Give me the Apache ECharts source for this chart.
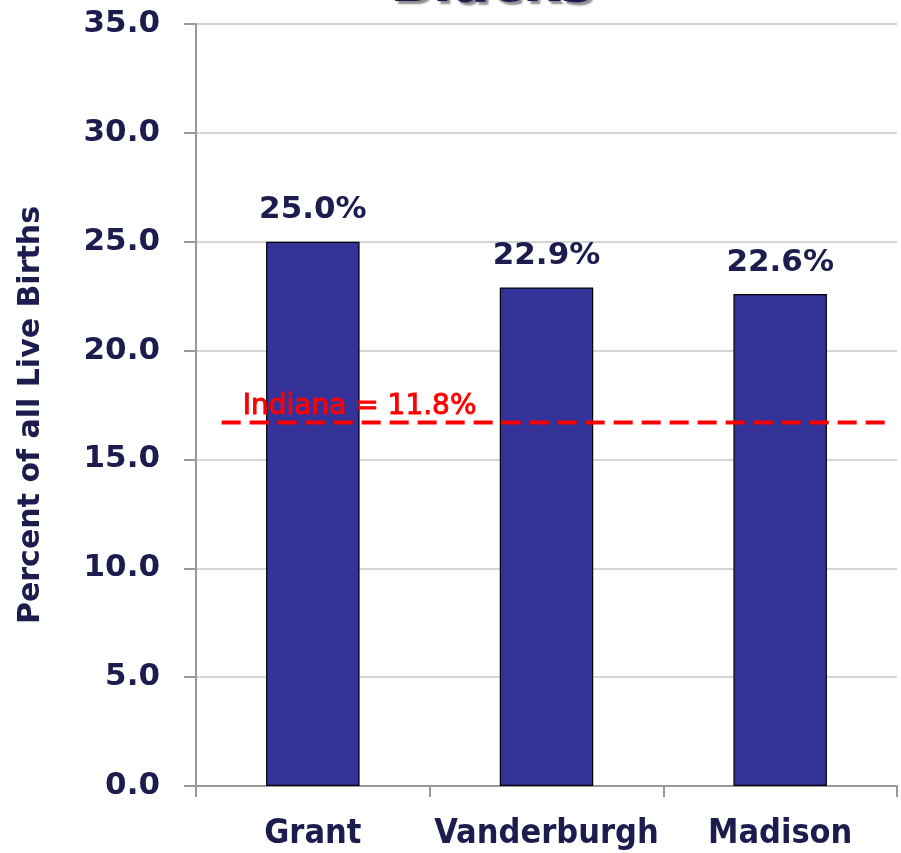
<!DOCTYPE html>
<html>
<head>
<meta charset="utf-8">
<script src="https://cdn.jsdelivr.net/npm/echarts@6/dist/echarts.min.js"></script>
<style>
  html, body { margin: 0; padding: 0; background: #fff; }
  #chart { width: 901px; height: 853px; }
</style>
</head>
<body>
<div id="chart"></div>
<script>
  // data
  var counties = ['Grant', 'Vanderburgh', 'Madison']
  var percents = [25.0, 22.9, 22.6]
  var indianaLabel = 'Indiana = 11.8%'
  var indianaLevel = 16.7        // where the dashed line sits on the axis
  var indianaSpan = [0.11, 2.96] // start/end of dashed line, in category units

  var navy = '#1c1c4f'
  var chart = echarts.init(document.getElementById('chart'))
  chart.setOption({
    animation: false,
    title: {
      text: 'Blacks',
      left: 385,
      top: -47,
      textStyle: {
        color: navy,
        fontSize: 56,
        fontWeight: 'bold',
        fontFamily: 'DejaVu Sans',
        textShadowColor: 'rgba(0,0,0,0.45)',
        textShadowOffsetX: 3,
        textShadowOffsetY: 3,
        textShadowBlur: 2
      }
    },
    grid: { left: 196, right: 4, top: 24, bottom: 67 },
    xAxis: [
      {
        type: 'category',
        data: counties,
        axisLine: { lineStyle: { color: '#999', width: 2 } },
        axisTick: { show: true, length: 11, interval: 0, lineStyle: { color: '#999', width: 2 } },
        axisLabel: {
          interval: 0,
          margin: 31,
          color: navy,
          fontSize: 34,
          fontWeight: 'bold',
          fontFamily: 'DejaVu Sans Condensed'
        }
      },
      { type: 'value', min: 0, max: 3, show: false }
    ],
    yAxis: {
      type: 'value',
      min: 0,
      max: 35,
      interval: 5,
      name: 'Percent of all Live Births',
      nameLocation: 'middle',
      nameGap: 150,
      nameTextStyle: {
        color: navy,
        fontSize: 30,
        fontWeight: 'bold',
        fontFamily: 'DejaVu Sans',
        padding: [0, 20, 0, 0]
      },
      axisLine: { show: true, lineStyle: { color: '#999', width: 2 } },
      axisTick: { show: true, length: 12, lineStyle: { color: '#999', width: 2 } },
      splitLine: { lineStyle: { color: '#c8c8c8', width: 1.5 } },
      axisLabel: {
        margin: 36,
        color: navy,
        fontSize: 31,
        fontWeight: 'bold',
        fontFamily: 'DejaVu Sans',
        formatter: function (v) { return v.toFixed(1) }
      }
    },
    series: [
      {
        type: 'bar',
        data: percents,
        barWidth: '40%',
        itemStyle: { color: '#333399', borderColor: '#000', borderWidth: 1.2 },
        label: {
          show: true,
          position: 'top',
          distance: 16,
          color: navy,
          fontSize: 31,
          fontWeight: 'bold',
          fontFamily: 'DejaVu Sans',
          formatter: function (p) { return p.value.toFixed(1) + '%' }
        }
      },
      {
        type: 'line',
        xAxisIndex: 1,
        symbol: 'circle',
        symbolSize: 0,
        showSymbol: true,
        data: [
          { value: [indianaSpan[0], indianaLevel], label: { show: true } },
          [indianaSpan[1], indianaLevel]
        ],
        lineStyle: { color: '#ff0000', width: 4, type: [19, 9] },
        itemStyle: { color: '#ff0000' },
        label: {
          show: false,
          position: 'right',
          offset: [16, -16],
          color: '#ff0000',
          fontSize: 28,
          fontFamily: 'DejaVu Sans',
          textBorderColor: '#ff0000',
          textBorderWidth: 0.9,
          formatter: function () { return indianaLabel }
        },
        z: 5
      }
    ]
  })
</script>
</body>
</html>
